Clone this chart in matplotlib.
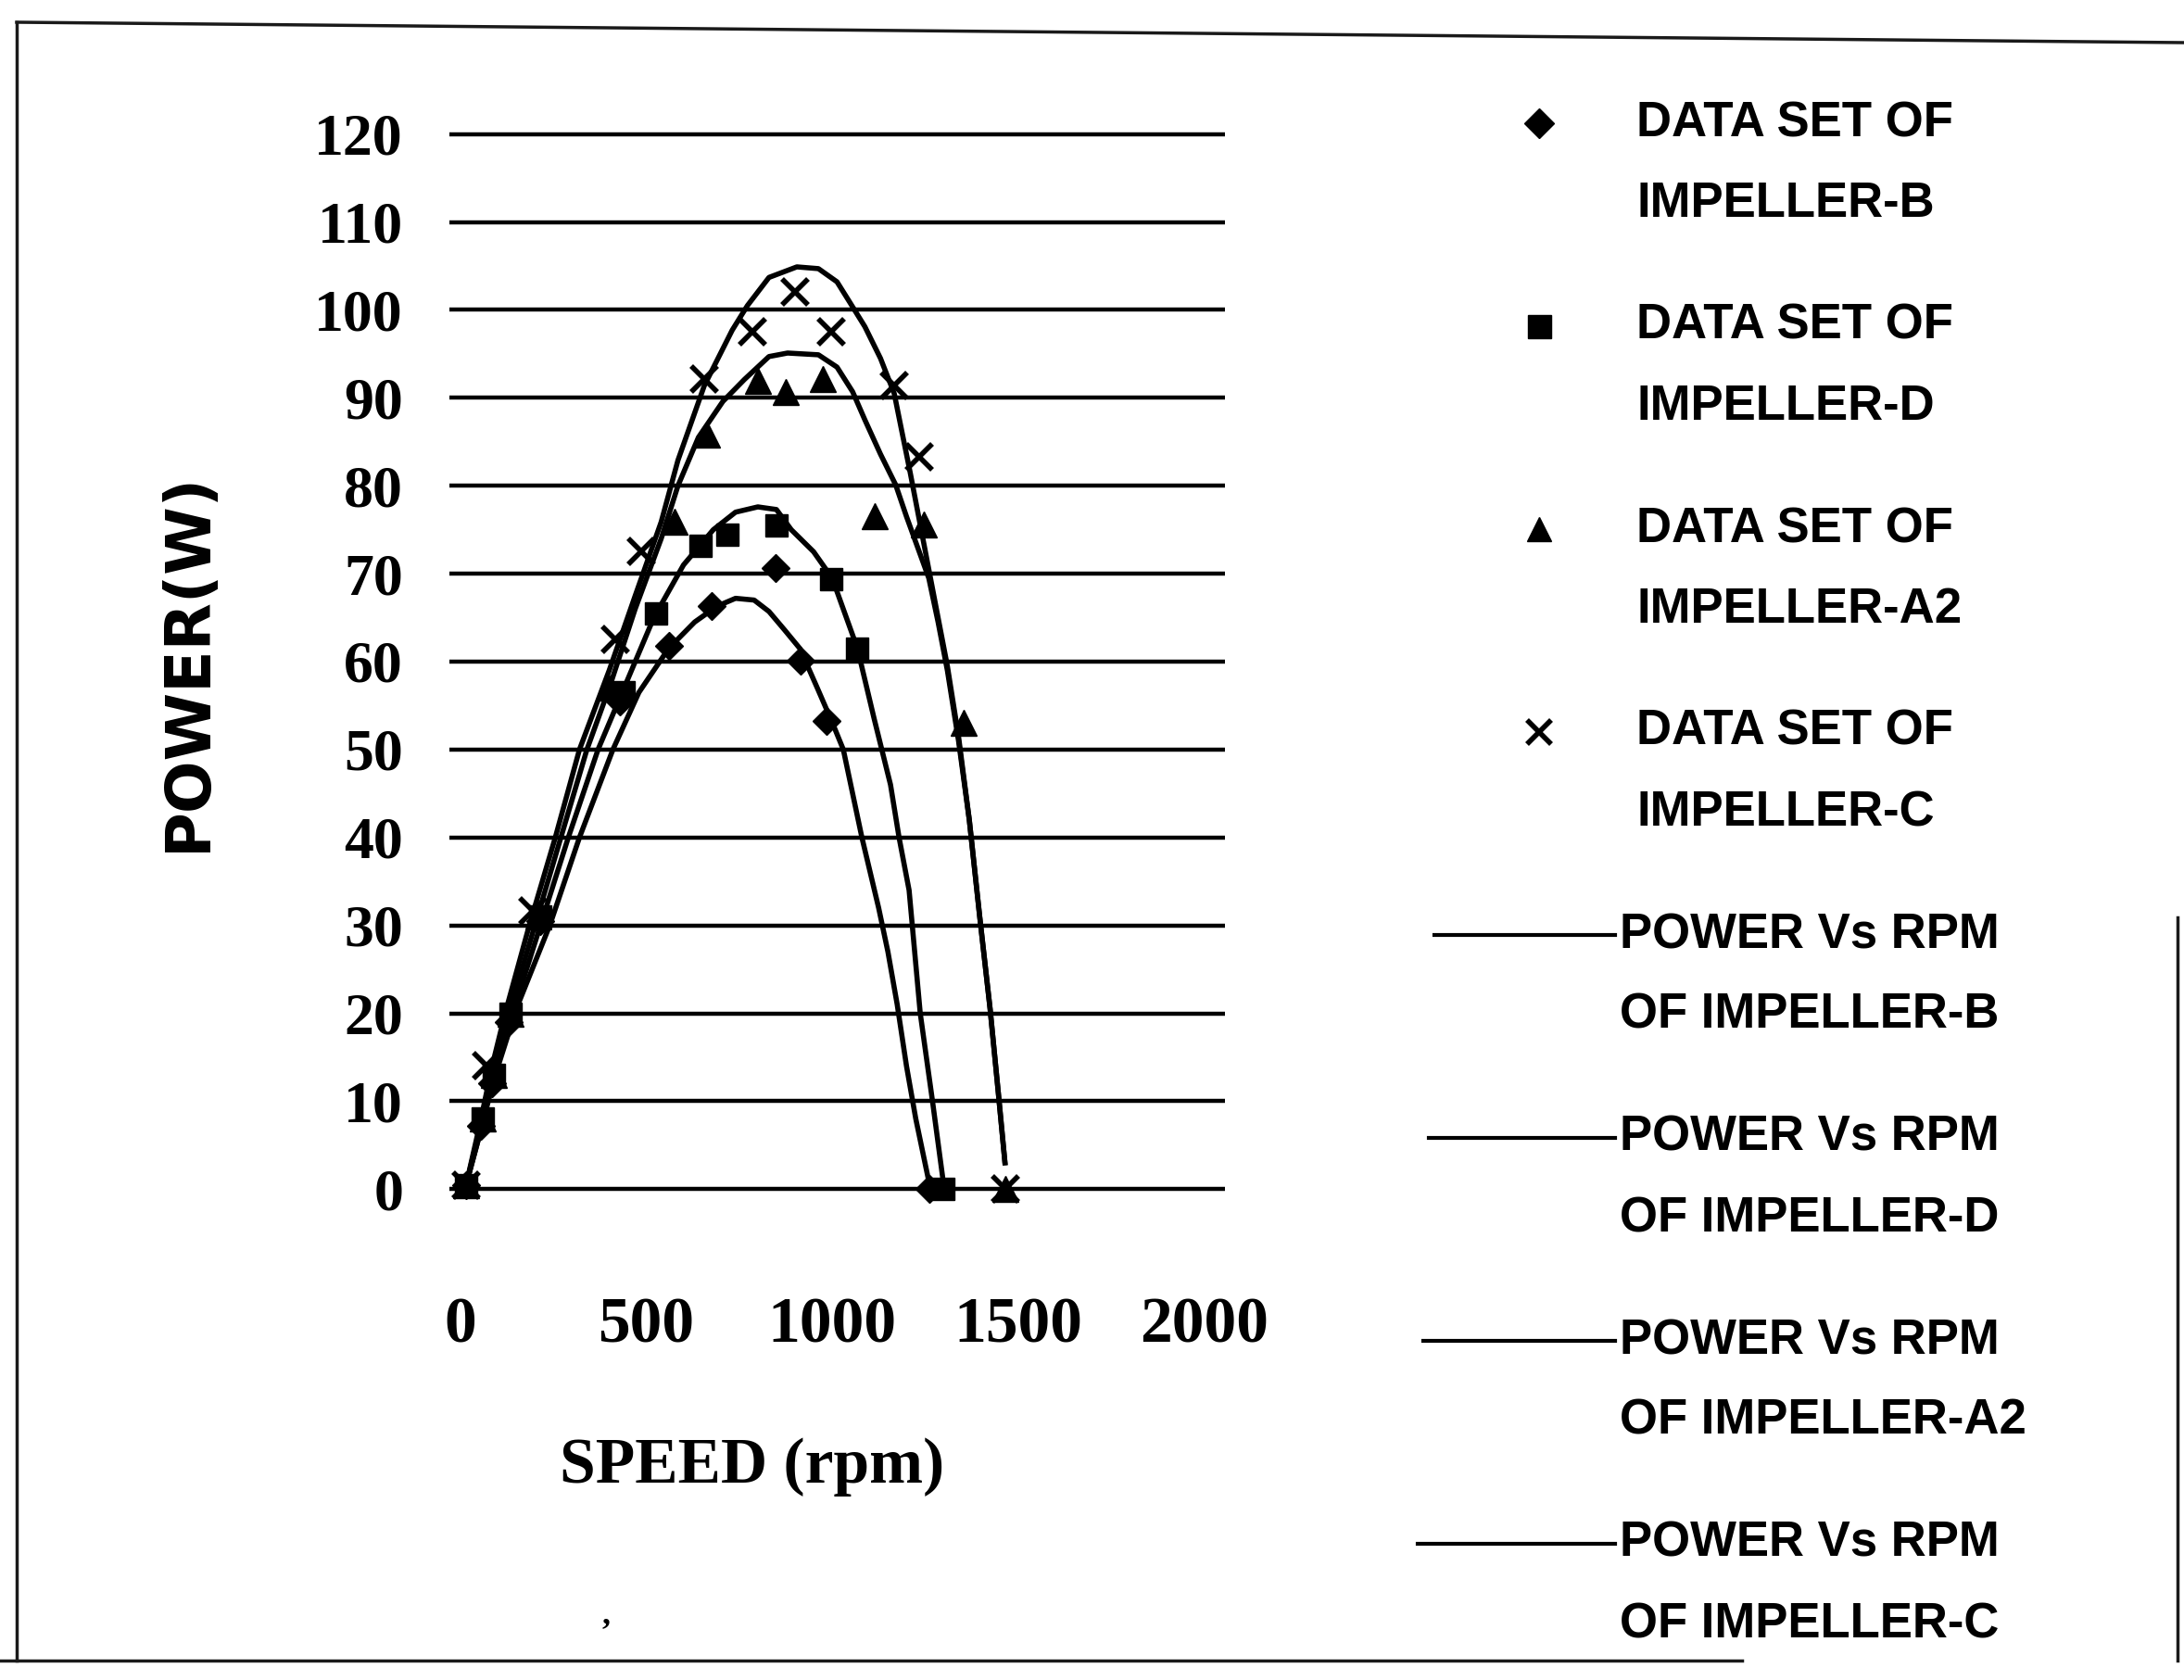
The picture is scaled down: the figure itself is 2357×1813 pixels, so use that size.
import matplotlib
matplotlib.use("Agg")
import matplotlib.pyplot as plt
from matplotlib.lines import Line2D

# data points (speed in rpm, power in W)
rpm_b = [15, 55, 85, 130, 215, 430, 560, 675, 847, 914, 985, 1262]
pow_b = [0.5, 7.2, 12, 19, 30.5, 55.5, 61.8, 66.3, 70.6, 60.1, 53.3, 0]

rpm_d = [15, 60, 90, 135, 215, 440, 525, 646, 718, 851, 997, 1068, 1298]
pow_d = [0.5, 8, 13, 20, 31, 56.5, 65.5, 73.2, 74.4, 75.5, 69.4, 61.5, 0]

rpm_a2 = [15, 60, 90, 135, 210, 400, 575, 664, 801, 876, 976, 1115, 1246, 1353, 1465]
pow_a2 = [0.5, 8, 13, 20, 31, 57, 75.9, 85.8, 91.9, 90.7, 92.1, 76.5, 75.6, 53, 0]

rpm_c = [15, 70, 195, 416, 485, 656, 785, 901, 997, 1167, 1234, 1465]
pow_c = [0.5, 14, 31.6, 62.5, 72.5, 92.1, 97.5, 102.1, 97.5, 91.4, 83.3, 0]

# fitted curves
fit_b_rpm = [15, 50, 90, 150, 240, 320, 410, 480, 560, 630, 690, 740, 790, 830,
             872, 913, 960, 1001, 1030, 1080, 1125, 1150, 1175, 1200, 1225, 1262]
fit_b_pow = [0.5, 6, 12.5, 20.5, 30, 40, 50, 56.5, 61.5, 64.5, 66.3, 67.2, 67, 65.7,
             63.6, 61.5, 57, 53, 50, 40, 32, 27, 21, 14, 8, 0.5]

fit_d_rpm = [15, 50, 90, 140, 215, 290, 370, 440, 520, 600, 680, 740, 800, 850,
             890, 950, 1000, 1068, 1113, 1157, 1180, 1207, 1222, 1237, 1270, 1300]
fit_d_pow = [0.5, 6, 13, 20, 30, 40, 50, 57, 65, 71, 75, 77, 77.6, 77.3,
             75, 72.5, 69.5, 61.5, 53.5, 46, 40, 34, 27, 20, 10, 0.5]

fit_a2_rpm = [15, 50, 85, 130, 200, 270, 340, 400, 470, 540, 585, 640, 706, 764,
              830, 880, 963, 1013, 1055, 1088, 1130, 1171, 1200, 1230, 1260, 1285,
              1310, 1340, 1369, 1397, 1425, 1447, 1465]
fit_a2_pow = [0.5, 6.5, 13, 20, 30, 40, 50, 57, 66, 74, 80, 85.5, 89.6, 92.1,
              94.7, 95.1, 94.9, 93.5, 90.7, 87.5, 83.6, 80.1, 76.5, 73, 69.5, 64.5,
              59, 51, 42, 31, 20.5, 11, 3]

fit_c_rpm = [15, 50, 85, 120, 185, 255, 320, 400, 470, 540, 585, 656, 731, 772,
             830, 905, 963, 1013, 1047, 1088, 1130, 1167, 1186, 1210, 1235, 1260,
             1285, 1310, 1340, 1369, 1397, 1425, 1447, 1465]
fit_c_pow = [0.5, 7, 14, 20, 30, 40, 50, 59, 67.5, 75.9, 82.9, 91.4, 97.7, 100.5,
             103.7, 104.9, 104.7, 103.2, 100.9, 98.1, 94.5, 90.5, 86.5, 81.5, 76, 70.5,
             65, 59.5, 51.5, 42, 31, 20.5, 11, 3]

y_ticks = list(range(0, 121, 10))
x_ticks = [0, 500, 1000, 1500, 2000]

data_labels = ["DATA SET OF\nIMPELLER-B", "DATA SET OF\nIMPELLER-D",
               "DATA SET OF\nIMPELLER-A2", "DATA SET OF\nIMPELLER-C"]
fit_labels = ["POWER Vs RPM\nOF IMPELLER-B", "POWER Vs RPM\nOF IMPELLER-D",
              "POWER Vs RPM\nOF IMPELLER-A2", "POWER Vs RPM\nOF IMPELLER-C"]

W, H = 2357, 1813


def fx(px):
    return px / W


def fy(py):
    return 1 - py / H


fig = plt.figure(figsize=(W / 100, H / 100), dpi=100)
fig.patch.set_facecolor("white")

ax = fig.add_axes([fx(485), fy(1288), fx(1322) - fx(485), fy(140) - fy(1288)])
ax.set_xlim(-30, 2057)
ax.set_ylim(-0.5, 120.5)
for s in ax.spines.values():
    s.set_visible(False)

ax.set_yticks(y_ticks)
ax.set_xticks(x_ticks)
ax.yaxis.grid(True, color="black", lw=3.2)
ax.xaxis.grid(False)
ax.set_axisbelow(True)
ax.tick_params(axis="both", length=0)
ax.tick_params(axis="y", pad=36)
ax.tick_params(axis="x", pad=80)
for lab in ax.get_yticklabels():
    lab.set_fontfamily("Liberation Serif")
    lab.set_fontweight("bold")
    lab.set_fontsize(46)
for lab in ax.get_xticklabels():
    lab.set_fontfamily("Liberation Serif")
    lab.set_fontweight("bold")
    lab.set_fontsize(50)

line_kw = dict(color="black", lw=4, solid_joinstyle="round", zorder=3)
ax.plot(fit_b_rpm, fit_b_pow, **line_kw)
ax.plot(fit_d_rpm, fit_d_pow, **line_kw)
ax.plot(fit_a2_rpm, fit_a2_pow, **line_kw)
ax.plot(fit_c_rpm, fit_c_pow, **line_kw)

mk_kw = dict(ls="none", color="black", clip_on=False, zorder=4)
ax.plot(rpm_b, pow_b, marker="D", ms=15, **mk_kw)
ax.plot(rpm_d, pow_d, marker="s", ms=17, **mk_kw)
ax.plot(rpm_a2, pow_a2, marker="^", ms=20, **mk_kw)
ax.plot(rpm_c, pow_c, marker="x", ms=20, mew=4, **mk_kw)

ax.set_xlabel("SPEED (rpm)", fontfamily="Liberation Serif", fontweight="bold",
              fontsize=50)
ax.xaxis.set_label_coords((812 - 485) / 837, (1283 - 1575) / 1138)
ax.xaxis.label.set_va("center")
ax.set_ylabel("POWER(W)", fontfamily="DejaVu Sans", fontweight="bold", fontsize=48)
ax.yaxis.set_label_coords((203 - 485) / 837, 0.5)
ax.yaxis.label.set_va("center")

# legend, drawn by hand so the handle sits on the first text line
handles = [dict(marker="D", ms=16), dict(marker="s", ms=18),
           dict(marker="^", ms=19), dict(marker="x", ms=19, mew=4)]
row0, row_step, line_gap = 133, 219, 87
font_leg = dict(fontfamily="Liberation Sans", fontweight="bold", fontsize=38)
for i, (lab, h) in enumerate(zip(data_labels, handles)):
    y = row0 + row_step * i
    fig.add_artist(Line2D([fx(1661)], [fy(y)], transform=fig.transFigure,
                          ls="none", color="black", **h))
    l1, l2 = lab.split("\n")
    fig.text(fx(1766), fy(y), l1, ha="left", va="center", **font_leg)
    fig.text(fx(1766), fy(y + line_gap), l2, ha="left", va="center", **font_leg)
for i, lab in enumerate(fit_labels):
    y = row0 + row_step * (i + 4)
    fig.add_artist(Line2D([fx(1548 - 6 * i), fx(1743)], [fy(y), fy(y)],
                          transform=fig.transFigure, color="black", lw=3))
    l1, l2 = lab.split("\n")
    fig.text(fx(1748), fy(y), l1, ha="left", va="center", **font_leg)
    fig.text(fx(1748), fy(y + line_gap), l2, ha="left", va="center", **font_leg)

# scanned page frame
frame_kw = dict(transform=fig.transFigure, color="#1a1a1a", lw=2.5)
fig.add_artist(Line2D([fx(18), fx(18)], [fy(24), fy(1792)], **frame_kw))
fig.add_artist(Line2D([fx(18), fx(2357)], [fy(24), fy(46)], **frame_kw))
fig.add_artist(Line2D([fx(0), fx(1880)], [fy(1792), fy(1792)], **frame_kw))
fig.add_artist(Line2D([fx(2350), fx(2350)], [fy(990), fy(1792)], **frame_kw))
fig.text(fx(654), fy(1743), ",", ha="center", va="center", fontsize=26,
         fontweight="bold", fontfamily="Liberation Serif")

fig.savefig("out.png", dpi=100, facecolor="white")
